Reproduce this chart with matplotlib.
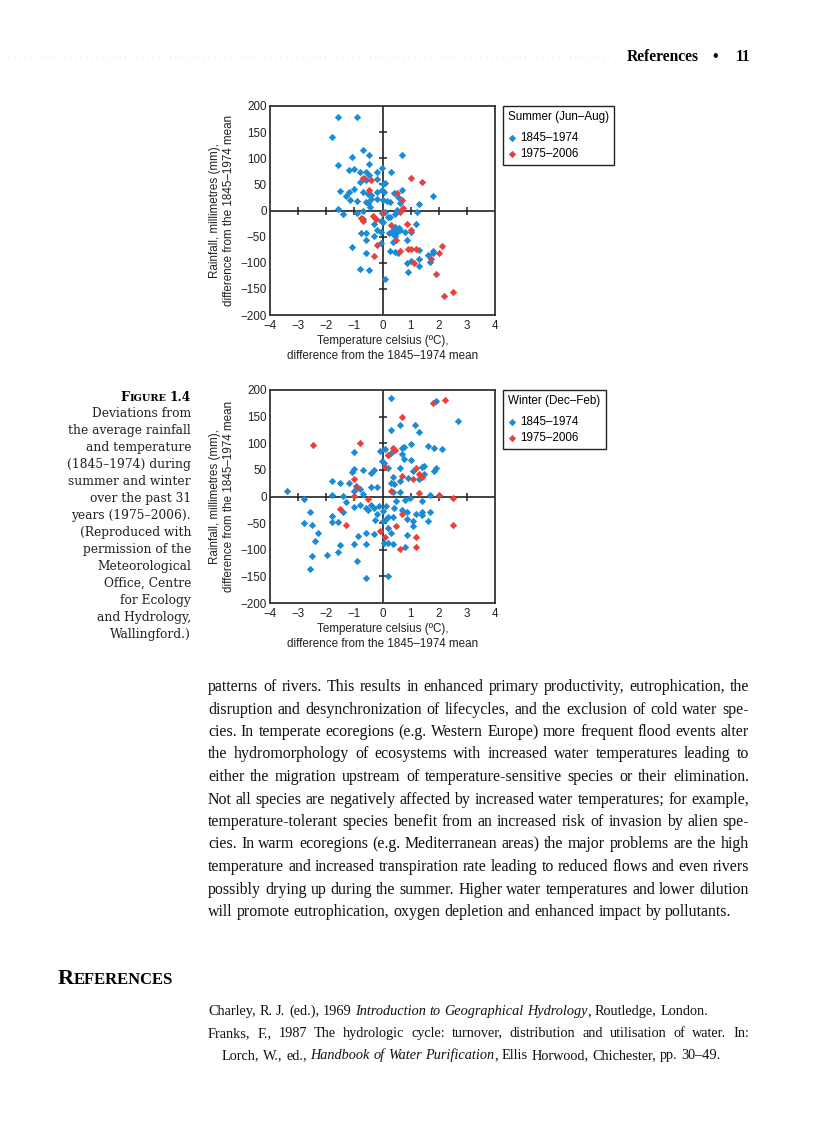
import matplotlib
matplotlib.use('Agg')
import matplotlib.pyplot as plt

plt.rcParams['font.family'] = 'Liberation Sans'

BLUE = '#1a8bd6'
RED = '#e8413b'
CHART_FS = 8.4

# axis ticks and legend texts
x_ticks = [-4, -3, -2, -1, 0, 1, 2, 3, 4]
y_ticks = [-200, -150, -100, -50, 0, 50, 100, 150, 200]
series_labels = ['1845–1974', '1975–2006']
panel_titles = ['Summer (Jun–Aug)', 'Winter (Dec–Feb)']

# (temperature deviation degC, rainfall deviation mm)
summer_1845_1974 = [
    (-1.60, 179), (-0.89, 179), (-1.80, 141), (-1.60, 87), (-0.69, 115), (-0.48, 106), (-1.08, 102),
    (0.70, 106), (-1.20, 77), (-1.00, 80), (-0.80, 74), (-0.58, 74), (-0.21, 74), (-0.02, 81),
    (0.30, 74), (-0.49, 89), (-0.49, 68), (-0.21, 61), (-0.59, 58), (-0.80, 55), (-0.64, 61),
    (0.00, 50), (0.10, 53), (0.70, 40), (-1.51, 37), (-1.00, 42), (-0.70, 35), (-0.51, 31),
    (-0.40, 30), (-0.20, 36), (-0.01, 39), (0.07, 36), (0.40, 34), (-1.31, 28), (-1.20, 36),
    (-1.17, 21), (-0.89, 18), (-0.59, 17), (-0.52, 15), (-0.40, 22), (-0.20, 22), (0.02, 21),
    (0.15, 19), (0.25, 16), (0.56, 26), (1.81, 27), (1.30, 12), (0.63, 14), (-1.60, 2),
    (-1.39, -6), (-0.89, -5), (-0.68, -1), (-0.70, -17), (-0.43, 6), (-0.07, -21), (-0.01, -4),
    (0.10, -2), (0.25, -13), (0.43, -7), (0.51, 1), (1.22, -3), (-0.31, -25), (-0.20, -37),
    (-0.07, -41), (-0.78, -43), (-0.59, -44), (-0.31, -48), (-0.58, -57), (0.23, -44), (0.37, -37),
    (0.46, -32), (0.58, -33), (0.63, -38), (0.51, -41), (0.46, -49), (0.37, -60), (-0.05, -63),
    (0.80, -42), (1.01, -42), (1.20, -26), (0.88, -57), (-1.08, -69), (-0.58, -81), (0.27, -78),
    (0.43, -80), (0.54, -82), (1.30, -75), (1.60, -85), (1.78, -77), (1.81, -82), (1.70, -98),
    (0.88, -101), (1.00, -97), (1.31, -92), (1.30, -107), (0.89, -118), (-0.80, -112),
    (-0.49, -114), (0.10, -131), (0.20, -12), (0.02, -22), (0.32, -44),
]
summer_1975_2006 = [
    (-0.69, 63), (-0.40, 58), (-0.49, 39), (0.52, 33), (0.71, 20), (1.01, 62), (1.40, 55),
    (-0.75, -14), (-0.68, -20), (-0.33, -10), (-0.24, -17), (0.00, -4), (0.30, -27), (0.62, -3),
    (0.73, 4), (0.88, -26), (1.00, -37), (-0.21, -66), (-0.30, -88), (0.62, -77), (0.89, -73),
    (1.01, -73), (1.20, -73), (0.49, -57), (1.11, -100), (1.71, -93), (2.01, -81), (2.12, -68),
    (1.91, -121), (2.20, -163), (2.51, -156),
]
winter_1845_1974 = [
    (0.30, 185), (1.90, 179), (2.68, 142), (0.63, 134), (1.16, 134), (0.30, 124), (1.29, 122),
    (1.00, 99), (1.61, 95), (1.82, 91), (2.10, 89), (0.78, 93), (0.68, 91), (0.08, 89),
    (-0.10, 85), (-1.00, 83), (0.30, 81), (0.21, 77), (0.70, 79), (0.78, 70), (1.01, 68),
    (-0.02, 67), (0.04, 62), (1.48, 58), (1.42, 56), (0.63, 53), (0.21, 53), (1.89, 53),
    (1.82, 48), (-1.02, 51), (-1.08, 46), (-0.70, 49), (-0.30, 50), (-0.40, 45), (1.07, 47),
    (1.48, 43), (0.39, 37), (0.89, 35), (1.31, 32), (-1.80, 30), (-1.50, 26), (-1.20, 26),
    (-0.95, 19), (-0.80, 14), (-1.00, 11), (-0.40, 18), (-0.20, 18), (0.31, 25), (0.40, 23),
    (0.61, 29), (0.38, 8), (0.61, 9), (-3.38, 10), (-2.78, -4), (-1.79, 3), (-1.40, 1),
    (-0.68, 5), (0.99, -3), (1.70, 2), (0.81, -7), (0.49, -8), (1.39, -8), (-1.29, -11),
    (-0.80, -16), (-0.40, -16), (-0.58, -21), (-0.53, -26), (-0.32, -22), (-0.12, -18),
    (0.11, -17), (0.42, -21), (0.71, -26), (0.88, -30), (-2.58, -29), (-1.39, -30), (-1.01, -19),
    (-0.20, -33), (0.01, -28), (0.38, -38), (1.19, -33), (1.39, -30), (1.40, -35), (1.70, -29),
    (-1.79, -37), (-1.80, -48), (-1.59, -48), (-2.78, -49), (-2.49, -54), (-0.28, -45),
    (0.01, -46), (0.13, -43), (0.21, -38), (0.88, -43), (1.10, -46), (1.10, -56), (1.63, -46),
    (0.21, -60), (0.30, -68), (-2.28, -68), (-0.30, -70), (-0.59, -69), (-0.88, -74), (0.88, -73),
    (-2.39, -83), (-1.02, -89), (-0.59, -90), (0.04, -87), (0.19, -87), (0.39, -90), (-1.50, -92),
    (0.81, -95), (-1.60, -104), (-1.97, -109), (-2.49, -111), (-0.89, -121), (-2.58, -136),
    (-0.59, -153), (0.21, -149),
]
winter_1975_2006 = [
    (-2.48, 96), (-0.80, 100), (0.70, 149), (1.79, 176), (2.21, 181), (0.39, 92), (0.46, 88),
    (0.19, 77), (0.09, 56), (-1.00, 33), (-0.89, 17), (-1.01, 1), (-0.51, -4), (-1.50, -24),
    (-1.29, -54), (0.30, 11), (0.70, 38), (1.08, 33), (1.20, 54), (1.28, 42), (1.39, 36),
    (1.29, 6), (2.01, 2), (2.50, -3), (2.50, -54), (0.69, -33), (0.49, -55), (-0.08, -65),
    (0.09, -76), (0.61, -98), (1.20, -76), (1.20, -95),
]

caption_lines = [
    'Deviations from', 'the average rainfall', 'and temperature', '(1845–1974) during',
    'summer and winter', 'over the past 31', 'years (1975–2006).', '(Reproduced with',
    'permission of the', 'Meteorological', 'Office, Centre', 'for Ecology',
    'and Hydrology,', 'Wallingford.)',
]
body_lines = [
    'patterns of rivers. This results in enhanced primary productivity, eutrophication, the',
    'disruption and desynchronization of lifecycles, and the exclusion of cold water spe-',
    'cies. In temperate ecoregions (e.g. Western Europe) more frequent flood events alter',
    'the hydromorphology of ecosystems with increased water temperatures leading to',
    'either the migration upstream of temperature-sensitive species or their elimination.',
    'Not all species are negatively affected by increased water temperatures; for example,',
    'temperature-tolerant species benefit from an increased risk of invasion by alien spe-',
    'cies. In warm ecoregions (e.g. Mediterranean areas) the major problems are the high',
    'temperature and increased transpiration rate leading to reduced flows and even rivers',
    'possibly drying up during the summer. Higher water temperatures and lower dilution',
    'will promote eutrophication, oxygen depletion and enhanced impact by pollutants.',
]
ref_charley = [('Charley, R. J. (ed.), 1969', 'normal'),
               ('Introduction to Geographical Hydrology', 'italic'),
               (', Routledge, London.', 'normal')]
ref_franks_1 = [('Franks, F., 1987 The hydrologic cycle: turnover, distribution and utilisation of water. In:', 'normal')]
ref_franks_2 = [('Lorch, W., ed.,', 'normal'), ('Handbook of Water Purification', 'italic'),
                (', Ellis Horwood, Chichester, pp. 30–49.', 'normal')]


W, H = 816, 1123
fig = plt.figure(figsize=(W / 100, H / 100), dpi=100)
page = fig.add_axes([0, 0, 1, 1], zorder=0)
page.set_xlim(0, W)
page.set_ylim(H, 0)
page.axis('off')
renderer = fig.canvas.get_renderer()


def width_of(t):
    return t.get_window_extent(renderer).width


def space_width(size, family):
    a = page.text(0, 0, 'n n', fontsize=size, family=family)
    b = page.text(0, 0, 'nn', fontsize=size, family=family)
    w = width_of(a) - width_of(b)
    a.remove()
    b.remove()
    return w


def put_words(x, y, segments, size, family='Liberation Serif', right=None):
    """Writes words one by one; spreads them to the right edge if right is given"""
    words = []
    for s, st in segments:
        for i, w in enumerate(s.split()):
            # punctuation glued to the previous segment
            glue = i == 0 and s[0] in ',.;:'
            words.append((w, st, glue))
    texts = [page.text(0, y, w, fontsize=size, family=family, style=st, va='baseline', color='#111111')
             for w, st, g in words]
    widths = [width_of(t) for t in texts]
    gap = space_width(size, family)
    n_gaps = sum(1 for w in words[1:] if not w[2])
    if right is not None and n_gaps > 0:
        gap = (right - x - sum(widths)) / n_gaps
    for k, (t, w) in enumerate(zip(texts, widths)):
        if k > 0 and not words[k][2]:
            x += gap
        t.set_x(x)
        x += w


def scatter_panel(box, old, new, title):
    left, top, right, bottom = box
    ax = fig.add_axes([left / W, 1 - bottom / H, (right - left) / W, (bottom - top) / H])
    ax.scatter(*zip(*old), marker='D', s=14, color=BLUE, linewidths=0, label=series_labels[0], zorder=3)
    ax.scatter(*zip(*new), marker='D', s=14, color=RED, linewidths=0, label=series_labels[1], zorder=4)
    ax.set_xlim(x_ticks[0], x_ticks[-1])
    ax.set_ylim(y_ticks[0], y_ticks[-1])
    ax.set_xticks(x_ticks)
    ax.set_yticks(y_ticks)
    ax.tick_params(length=0, labelsize=CHART_FS, pad=2.5, colors='#222222')
    ax.tick_params(axis='x', pad=3.5)
    for sp in ax.spines.values():
        sp.set_color('#333333')
        sp.set_linewidth(1.3)
    # axes crossing at the origin, with their own tick marks
    ax.axhline(0, color='#222222', lw=1.2, zorder=2)
    ax.axvline(0, color='#222222', lw=1.2, zorder=2)
    inner_x = [t for t in x_ticks[1:-1] if t != 0]
    inner_y = [t for t in y_ticks[1:-1] if t != 0]
    ax.plot(inner_x, [0] * len(inner_x), ls='none', marker='|', ms=6, mew=1.1, color='#222222', zorder=2)
    ax.plot([0] * len(inner_y), inner_y, ls='none', marker='_', ms=6, mew=1.1, color='#222222', zorder=2)
    ax.set_xlabel('Temperature celsius (ºC),\ndifference from the 1845–1974 mean',
                  fontsize=CHART_FS, linespacing=1.4, labelpad=2, color='#222222')
    ax.set_ylabel('Rainfall, millimetres (mm),\ndifference from the 1845–1974 mean',
                  fontsize=CHART_FS, linespacing=1.15, labelpad=4, color='#222222')
    leg = ax.legend(title=title, loc='upper left', bbox_to_anchor=(1.035, 1.0), borderaxespad=0,
                    fontsize=CHART_FS, title_fontsize=CHART_FS, alignment='left', scatterpoints=1,
                    handlelength=0.7, handletextpad=0.3, labelspacing=0.3, borderpad=0.45,
                    fancybox=False, framealpha=1, edgecolor='#222222')
    leg.get_frame().set_linewidth(1.0)
    leg._legend_box.sep = 6.5  # extra room under the legend title
    return ax


scatter_panel((270, 106, 495, 315), summer_1845_1974, summer_1975_2006, panel_titles[0])
scatter_panel((270, 390, 495, 603), winter_1845_1974, winter_1975_2006, panel_titles[1])

# running header
page.plot([8, 612], [57, 57], ls=(0, (1, 4)), color='#e4e4e4', lw=0.8)
page.text(750, 61, '11', ha='right', va='baseline', family='Liberation Serif', weight='bold', fontsize=11.2)
page.text(715, 61, '•', ha='center', va='baseline', family='Liberation Serif', weight='bold', fontsize=11.2)
page.text(699, 61, 'References', ha='right', va='baseline', family='Liberation Serif',
          weight='bold', fontsize=11.2)

# figure caption in the margin
cap_font = 'DejaVu Serif'
t = page.text(191, 401, '1.4', ha='right', va='baseline', family=cap_font, weight='bold', fontsize=8.8)
x = 191 - width_of(t) - 3.5
t = page.text(x, 401, 'IGURE', ha='right', va='baseline', family=cap_font, weight='bold', fontsize=7)
x -= width_of(t)
page.text(x, 401, 'F', ha='right', va='baseline', family=cap_font, weight='bold', fontsize=9.2)
for i, line in enumerate(caption_lines):
    page.text(191, 417 + i * 17, line, ha='right', va='baseline', family=cap_font, fontsize=8.8,
              color='#222222')

# body text
for i, line in enumerate(body_lines):
    last = i == len(body_lines) - 1
    put_words(208, 691 + i * 22.5, [(line, 'normal')], 11.45, right=None if last else 749)

# references heading, small caps
t = page.text(58, 984, 'R', va='baseline', family='Liberation Serif', weight='bold', fontsize=16)
page.text(58 + width_of(t), 984, 'EFERENCES', va='baseline', family='Liberation Serif',
          weight='bold', fontsize=12)

put_words(208, 1015, ref_charley, 10.3)
put_words(208, 1037, ref_franks_1, 10.3, right=749)
put_words(222, 1059, ref_franks_2, 10.3)

fig.savefig('out.png', dpi=100)
